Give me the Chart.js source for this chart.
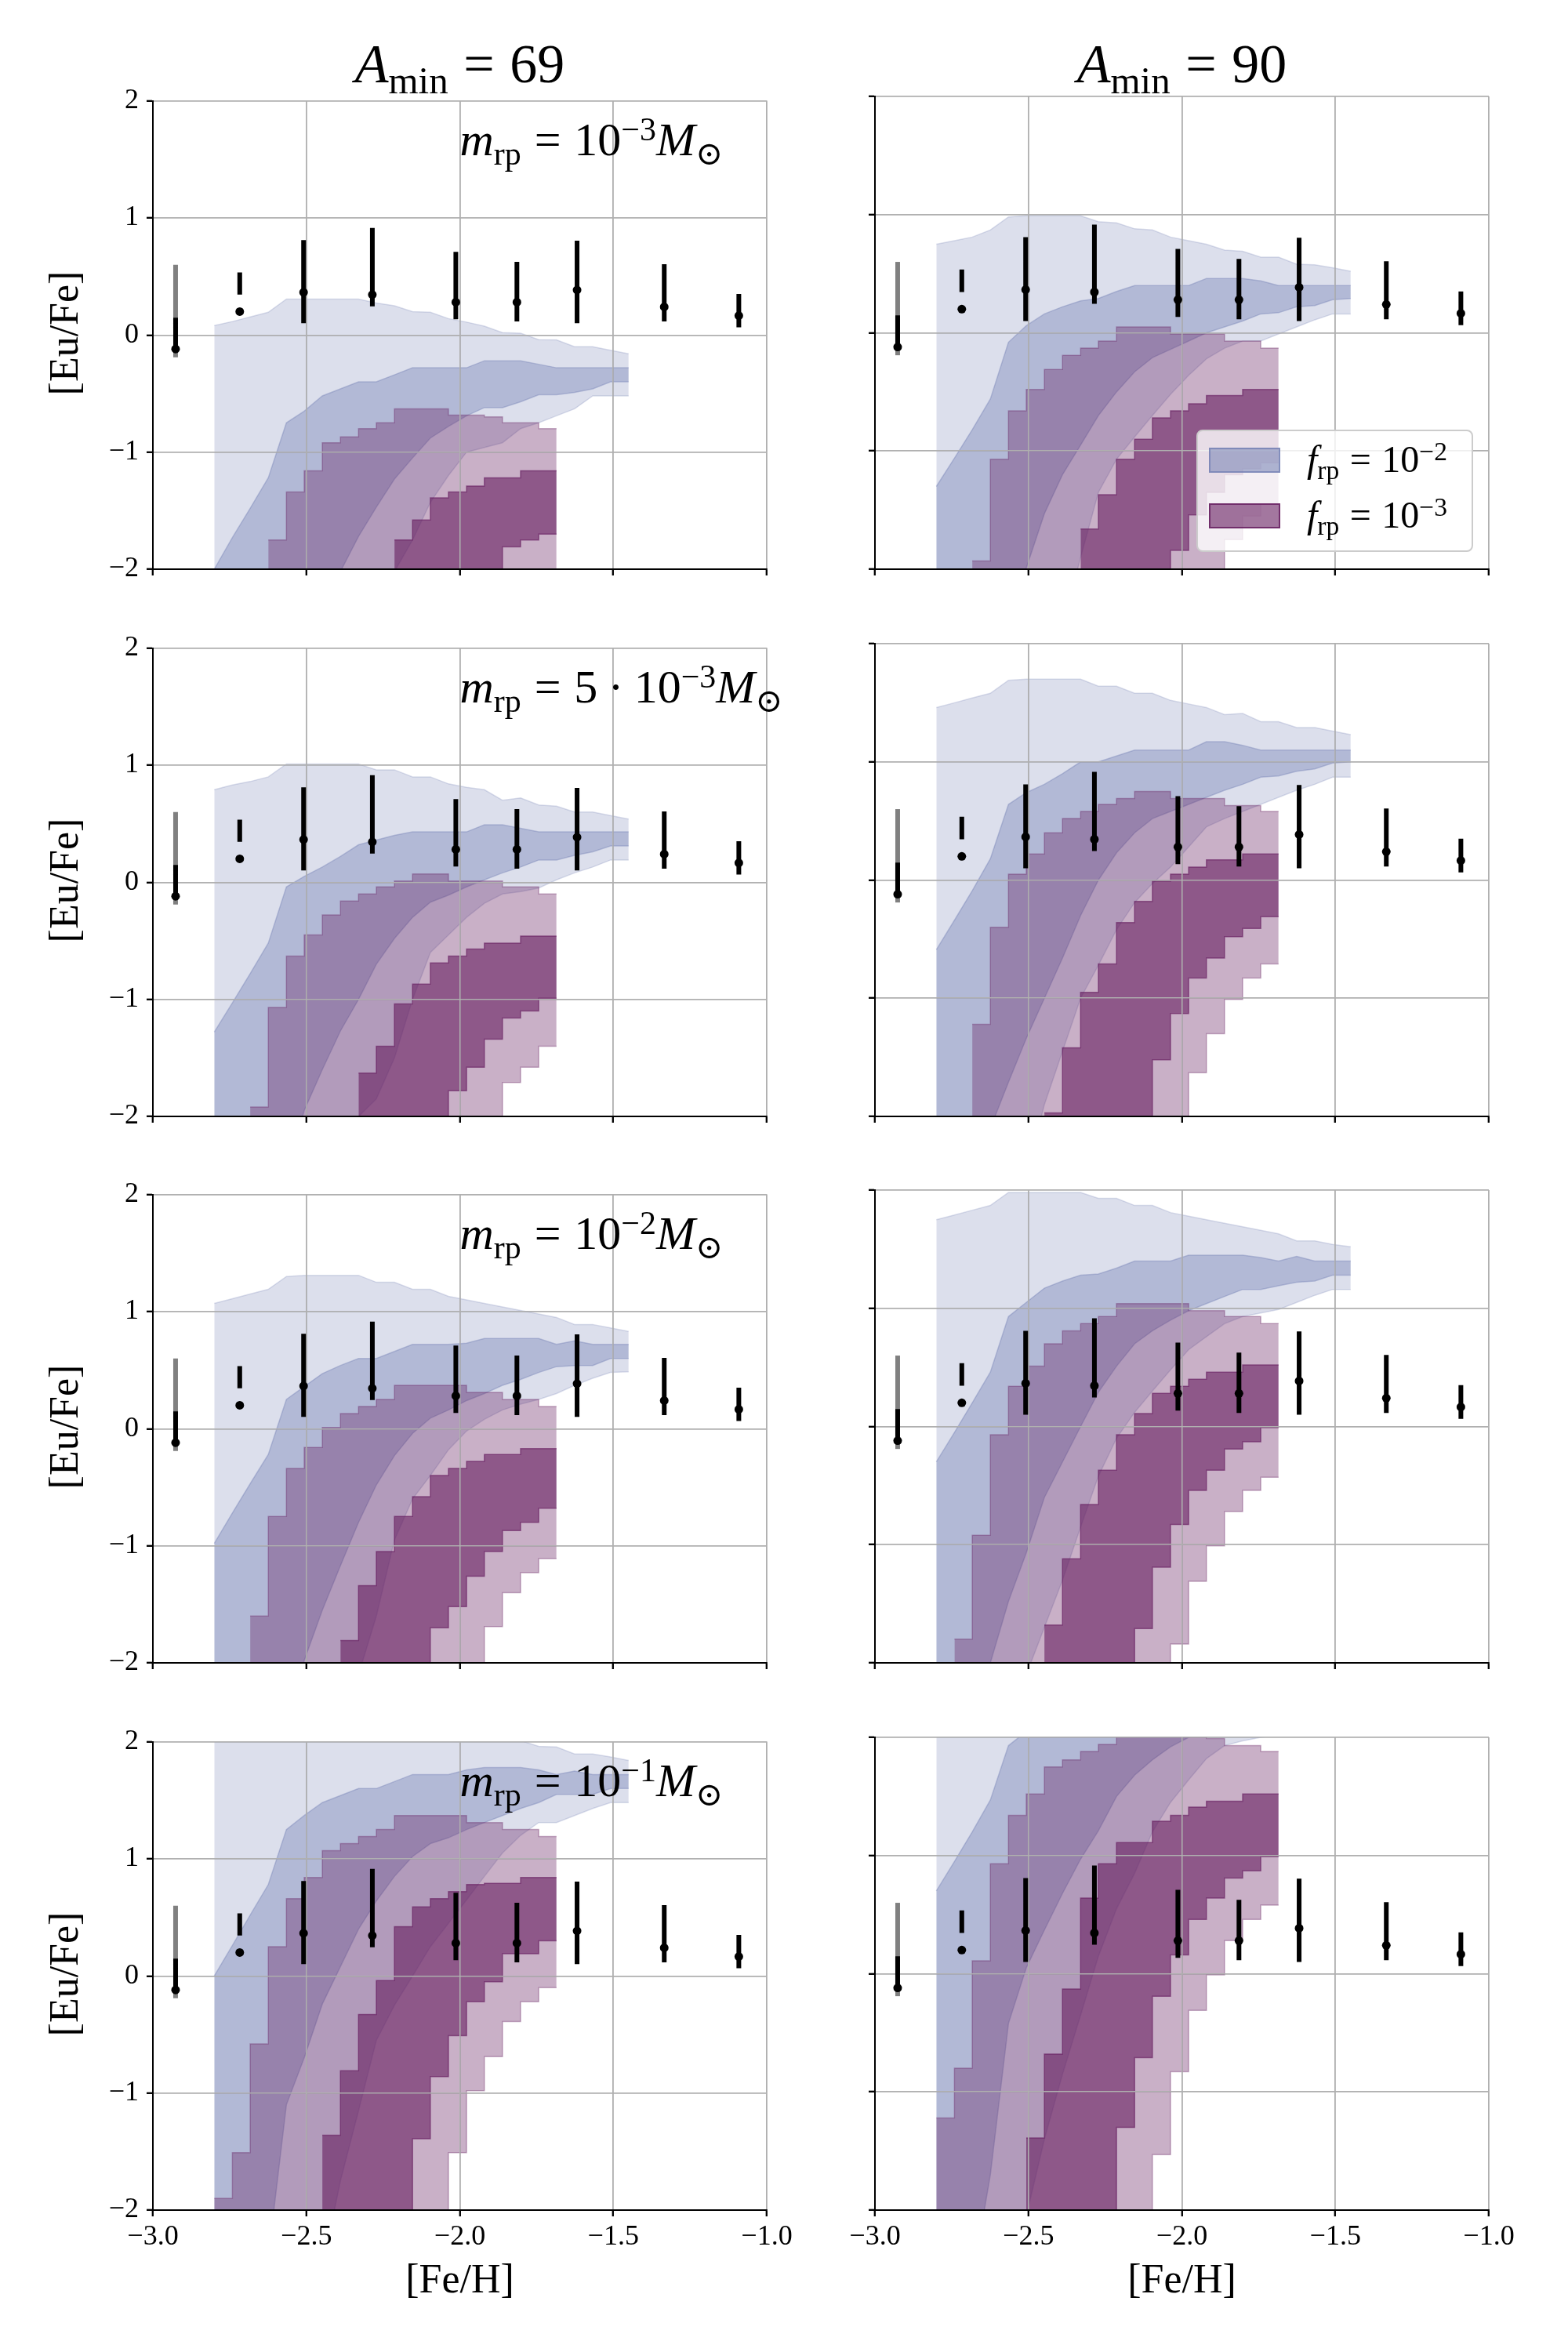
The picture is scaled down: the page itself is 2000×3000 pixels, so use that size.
<!DOCTYPE html>
<html>
<head>
<meta charset="utf-8">
<title>[Eu/Fe] vs [Fe/H]</title>
<script src="https://cdn.jsdelivr.net/npm/chart.js@4.4.1/dist/chart.umd.min.js"></script>
<style>
  html, body { margin: 0; padding: 0; background: #fff; }
  #fig { position: relative; width: 2000px; height: 3000px; overflow: hidden; background: #fff; }
  #fig canvas { position: absolute; }
  .math { position: absolute; white-space: nowrap; line-height: 1; color: #000;
          font-family: "Liberation Serif", "DejaVu Serif", serif; }
  .math i { font-style: italic; }
  .math sub, .math sup { font-size: 0.7em; line-height: 0; position: relative; vertical-align: baseline; }
  .math sub { top: 0.28em; }
  .math sup { top: -0.45em; }
  .math .op { margin: 0 0.28em; }
  .math .bin { margin: 0 0.22em; }
  .legend { position: absolute; box-sizing: border-box; background: rgba(255,255,255,0.8);
            border: 2px solid #cccccc; border-radius: 8px; }
  .swatch { position: absolute; box-sizing: border-box; width: 91px; height: 32px; }
</style>
</head>
<body>
<div id="fig"></div>
<script>
// [Fe/H] positions of the model bins, shared by all panels
const gridX = [-2.800, -2.741, -2.683, -2.624, -2.565, -2.507, -2.448, -2.389, -2.330, -2.272, -2.213, -2.154,
               -2.096, -2.037, -1.978, -1.920, -1.861, -1.802, -1.743, -1.685, -1.626, -1.567, -1.509, -1.450];

// observed stars
const obsX  = [-2.926, -2.717, -2.509, -2.285, -2.013, -1.814, -1.618, -1.334, -1.091];
const obsY  = [-0.12, 0.20, 0.365, 0.345, 0.28, 0.28, 0.385, 0.24, 0.165];
const obsLo = [-0.15, 0.345, 0.10, 0.245, 0.135, 0.115, 0.10, 0.115, 0.065];
const obsHi = [0.147, 0.535, 0.81, 0.915, 0.71, 0.625, 0.805, 0.605, 0.35];
// grey bar on the first bin
const greyX  = [-2.926];
const greyLo = [-0.19];
const greyHi = [0.60];

const aminValues = ['69', '90'];
const mrpLabels = ['10<sup>\u22123</sup>', '5<span class="bin">\u00b7</span>10<sup>\u22123</sup>',
                   '10<sup>\u22122</sup>', '10<sup>\u22121</sup>'];

// panels: 0 = row1 left, 1 = row1 right, 2 = row2 left ... 7 = row4 right
// f_rp = 1e-2 bands, one value per gridX point
const blueOuterHi = [
  [0.08, 0.115, 0.155, 0.194, 0.307, 0.307, 0.307, 0.307, 0.307, 0.273, 0.25, 0.20, 0.194, 0.14, 0.11, 0.076, 0.02, 0.016, -0.04, -0.042, -0.10, -0.10, -0.13, -0.16],
  [0.75, 0.78, 0.81, 0.87, 0.98, 0.99, 0.99, 0.99, 0.99, 0.94, 0.93, 0.88, 0.87, 0.81, 0.78, 0.75, 0.70, 0.69, 0.64, 0.64, 0.58, 0.575, 0.55, 0.52],
  [0.79, 0.83, 0.86, 0.90, 1.01, 1.01, 1.01, 1.01, 1.01, 0.96, 0.96, 0.90, 0.90, 0.84, 0.81, 0.79, 0.70, 0.72, 0.66, 0.65, 0.60, 0.60, 0.57, 0.54],
  [1.46, 1.50, 1.54, 1.58, 1.69, 1.70, 1.70, 1.70, 1.70, 1.64, 1.64, 1.58, 1.58, 1.52, 1.49, 1.46, 1.40, 1.41, 1.34, 1.34, 1.29, 1.29, 1.26, 1.23],
  [1.07, 1.11, 1.15, 1.19, 1.30, 1.31, 1.31, 1.31, 1.31, 1.25, 1.25, 1.19, 1.19, 1.13, 1.10, 1.07, 1.04, 1.01, 0.98, 0.95, 0.89, 0.89, 0.86, 0.83],
  [1.75, 1.79, 1.83, 1.87, 1.98, 1.98, 1.98, 1.98, 1.98, 1.93, 1.93, 1.87, 1.87, 1.81, 1.78, 1.75, 1.72, 1.69, 1.66, 1.63, 1.57, 1.57, 1.54, 1.52],
  [2.05, 2.10, 2.15, 2.20, 2.30, 2.30, 2.30, 2.30, 2.30, 2.25, 2.25, 2.20, 2.20, 2.15, 2.10, 2.07, 2.04, 2.01, 1.96, 1.955, 1.895, 1.895, 1.87, 1.84],
  [2.25, 2.29, 2.33, 2.37, 2.48, 2.48, 2.48, 2.48, 2.48, 2.43, 2.43, 2.37, 2.37, 2.31, 2.28, 2.25, 2.22, 2.19, 2.16, 2.13, 2.12, 2.12, 2.11, 2.11]
];
const blueOuterLo = [
  [-2.5, -2.5, -2.5, -2.5, -2.5, -2.5, -2.5, -2.5, -2.5, -2.3, -2.02, -1.75, -1.43, -1.2, -1.0, -0.96, -0.92, -0.8, -0.75, -0.69, -0.63, -0.52, -0.52, -0.52],
  [-2.5, -2.5, -2.5, -2.5, -2.5, -2.5, -2.5, -2.5, -1.9, -1.35, -1.07, -0.88, -0.70, -0.52, -0.36, -0.22, -0.13, -0.07, -0.07, -0.01, 0.05, 0.11, 0.16, 0.16],
  [-2.5, -2.5, -2.5, -2.5, -2.5, -2.5, -2.5, -2.5, -2.0, -1.85, -1.5, -1.0, -0.6, -0.45, -0.30, -0.18, -0.10, -0.08, -0.05, 0.02, 0.08, 0.13, 0.19, 0.19],
  [-2.5, -2.5, -2.5, -2.5, -2.5, -2.5, -1.9, -1.45, -1.0, -0.72, -0.42, -0.19, -0.03, 0.11, 0.28, 0.45, 0.52, 0.58, 0.64, 0.70, 0.76, 0.81, 0.87, 0.87],
  [-2.5, -2.5, -2.5, -2.5, -2.5, -2.5, -2.5, -2.5, -2.1, -1.6, -0.95, -0.60, -0.40, -0.18, -0.02, 0.08, 0.16, 0.21, 0.25, 0.30, 0.37, 0.43, 0.48, 0.485],
  [-2.5, -2.5, -2.5, -2.5, -2.5, -2.1, -1.7, -1.3, -0.85, -0.42, -0.10, 0.12, 0.30, 0.48, 0.65, 0.76, 0.87, 0.93, 0.96, 0.99, 1.05, 1.11, 1.16, 1.16],
  [-2.5, -2.5, -2.5, -2.5, -2.5, -2.5, -2.5, -1.75, -1.15, -0.55, -0.25, 0.0, 0.25, 0.45, 0.65, 0.85, 1.05, 1.20, 1.31, 1.31, 1.37, 1.43, 1.48, 1.48],
  [-2.5, -2.5, -2.5, -2.5, -2.5, -2.05, -1.4, -0.85, -0.35, 0.15, 0.55, 0.85, 1.20, 1.45, 1.64, 1.82, 1.93, 1.97, 2.0, 2.02, 2.05, 2.06, 2.07, 2.08]
];
const blueInnerHi = [
  [-2.0, -1.73, -1.48, -1.22, -0.75, -0.65, -0.52, -0.46, -0.40, -0.40, -0.34, -0.28, -0.28, -0.28, -0.28, -0.22, -0.22, -0.22, -0.25, -0.28, -0.28, -0.28, -0.28, -0.28],
  [-1.30, -1.06, -0.82, -0.56, -0.08, 0.06, 0.16, 0.22, 0.27, 0.29, 0.35, 0.40, 0.40, 0.40, 0.40, 0.46, 0.46, 0.46, 0.44, 0.40, 0.40, 0.40, 0.40, 0.40],
  [-1.28, -1.03, -0.78, -0.52, -0.04, 0.05, 0.13, 0.22, 0.32, 0.36, 0.40, 0.43, 0.43, 0.43, 0.43, 0.49, 0.49, 0.46, 0.43, 0.43, 0.43, 0.43, 0.43, 0.43],
  [-0.59, -0.34, -0.09, 0.18, 0.64, 0.74, 0.81, 0.90, 1.0, 1.0, 1.05, 1.10, 1.10, 1.10, 1.10, 1.17, 1.17, 1.14, 1.10, 1.10, 1.10, 1.10, 1.10, 1.10],
  [-0.98, -0.72, -0.47, -0.22, 0.25, 0.36, 0.47, 0.54, 0.60, 0.60, 0.66, 0.72, 0.72, 0.72, 0.73, 0.77, 0.77, 0.77, 0.77, 0.72, 0.75, 0.72, 0.72, 0.72],
  [-0.30, -0.05, 0.20, 0.46, 0.93, 1.05, 1.17, 1.23, 1.28, 1.29, 1.34, 1.40, 1.40, 1.40, 1.45, 1.45, 1.45, 1.45, 1.43, 1.40, 1.44, 1.40, 1.40, 1.40],
  [0.0, 0.26, 0.52, 0.78, 1.25, 1.37, 1.48, 1.54, 1.60, 1.60, 1.66, 1.72, 1.72, 1.72, 1.76, 1.78, 1.78, 1.78, 1.76, 1.72, 1.75, 1.72, 1.72, 1.72],
  [0.70, 0.95, 1.20, 1.47, 1.93, 2.05, 2.17, 2.25, 2.30, 2.35, 2.35, 2.35, 2.35, 2.35, 2.35, 2.35, 2.35, 2.35, 2.35, 2.35, 2.35, 2.35, 2.35, 2.35]
];
const blueInnerLo = [
  [-2.6, -2.6, -2.6, -2.6, -2.6, -2.6, -2.6, -2.02, -1.72, -1.47, -1.23, -1.05, -0.88, -0.78, -0.69, -0.62, -0.62, -0.57, -0.51, -0.51, -0.49, -0.46, -0.40, -0.40],
  [-2.5, -2.5, -2.5, -2.5, -2.5, -1.99, -1.53, -1.2, -0.95, -0.70, -0.50, -0.33, -0.21, -0.14, -0.07, 0.0, 0.05, 0.10, 0.16, 0.17, 0.22, 0.23, 0.28, 0.29],
  [-2.5, -2.5, -2.5, -2.5, -2.5, -1.95, -1.60, -1.27, -1.0, -0.70, -0.48, -0.30, -0.17, -0.11, -0.04, 0.02, 0.08, 0.13, 0.19, 0.19, 0.23, 0.26, 0.31, 0.31],
  [-2.5, -2.5, -2.5, -2.1, -1.71, -1.34, -1.0, -0.66, -0.30, 0.0, 0.23, 0.40, 0.52, 0.58, 0.64, 0.70, 0.76, 0.81, 0.87, 0.88, 0.92, 0.94, 0.99, 1.0],
  [-2.5, -2.5, -2.5, -2.5, -2.5, -1.98, -1.55, -1.17, -0.80, -0.48, -0.23, -0.04, 0.09, 0.16, 0.24, 0.30, 0.37, 0.42, 0.48, 0.53, 0.54, 0.54, 0.60, 0.60],
  [-2.5, -2.5, -2.5, -2.0, -1.48, -1.07, -0.60, -0.30, 0.0, 0.29, 0.51, 0.70, 0.81, 0.90, 0.98, 1.04, 1.10, 1.16, 1.16, 1.19, 1.22, 1.23, 1.28, 1.28],
  [-2.5, -2.5, -2.5, -2.4, -1.10, -0.70, -0.24, 0.08, 0.40, 0.64, 0.85, 1.02, 1.13, 1.18, 1.25, 1.31, 1.37, 1.43, 1.48, 1.55, 1.55, 1.55, 1.60, 1.60],
  [-2.6, -2.6, -2.6, -1.7, -0.42, 0.05, 0.37, 0.68, 0.97, 1.21, 1.50, 1.68, 1.81, 1.92, 2.0, 2.05, 2.07, 2.08, 2.1, 2.1, 2.12, 2.14, 2.16, 2.18]
];

// f_rp = 1e-3 bands, one value per bin (bin b runs from gridX[b] to gridX[b+1]); null = no model
const N = null;
const purpleOuterHi = [
  [N, N, N, -1.75, -1.34, -1.16, -0.92, -0.87, -0.80, -0.75, -0.63, -0.63, -0.63, -0.685, -0.685, -0.70, -0.75, -0.75, -0.80],
  [N, N, -1.93, -1.07, -0.66, -0.48, -0.31, -0.19, -0.13, -0.07, 0.05, 0.05, 0.05, -0.01, -0.01, -0.01, -0.07, -0.07, -0.13],
  [N, N, -1.92, -1.07, -0.63, -0.45, -0.28, -0.16, -0.10, -0.04, 0.01, 0.07, 0.07, 0.01, 0.01, 0.01, -0.04, -0.04, -0.10],
  [N, N, -1.22, -0.40, 0.05, 0.22, 0.40, 0.52, 0.58, 0.64, 0.69, 0.75, 0.75, 0.69, 0.69, 0.69, 0.63, 0.63, 0.58],
  [N, N, -1.60, -0.75, -0.34, -0.16, 0.01, 0.13, 0.19, 0.25, 0.37, 0.37, 0.37, 0.37, 0.31, 0.31, 0.25, 0.25, 0.19],
  [N, -1.80, -0.92, -0.07, 0.34, 0.51, 0.70, 0.81, 0.87, 0.93, 1.04, 1.04, 1.04, 1.04, 0.98, 0.98, 0.93, 0.93, 0.87],
  [-1.90, -1.51, -0.58, 0.25, 0.66, 0.84, 1.07, 1.13, 1.19, 1.25, 1.37, 1.37, 1.37, 1.37, 1.31, 1.31, 1.25, 1.25, 1.19],
  [-1.22, -0.80, 0.11, 0.93, 1.34, 1.52, 1.75, 1.81, 1.88, 1.94, 2.05, 2.05, 2.05, 2.05, 2.05, 1.99, 1.93, 1.93, 1.88]
];
const purpleOuterLo = [
  [N, N, N, -2.3, -2.3, -2.3, -2.3, -2.3, -2.3, -2.3, -2.3, -2.3, -2.3, -2.3, -2.3, -2.3, -2.3, -2.3, -2.3],
  [N, N, -2.3, -2.3, -2.3, -2.3, -2.3, -2.3, -2.3, -2.3, -2.3, -2.3, -2.3, -2.3, -2.3, -2.3, -1.75, -1.55, -1.45],
  [N, N, -2.3, -2.3, -2.3, -2.3, -2.3, -2.3, -2.3, -2.3, -2.3, -2.3, -2.3, -2.3, -2.3, -2.3, -1.71, -1.58, -1.40],
  [N, N, -2.3, -2.3, -2.3, -2.3, -2.3, -2.3, -2.3, -2.3, -2.3, -2.3, -2.3, -2.3, -1.63, -1.30, -1.01, -0.83, -0.71],
  [N, N, -2.3, -2.3, -2.3, -2.3, -2.3, -2.3, -2.3, -2.3, -2.3, -2.3, -2.3, -2.3, -2.3, -1.69, -1.40, -1.23, -1.11],
  [N, -2.3, -2.3, -2.3, -2.3, -2.3, -2.3, -2.3, -2.3, -2.3, -2.3, -2.3, -2.3, -1.84, -1.31, -1.01, -0.72, -0.54, -0.43],
  [-2.3, -2.3, -2.3, -2.3, -2.3, -2.3, -2.3, -2.3, -2.3, -2.3, -2.3, -2.3, -2.3, -1.51, -0.98, -0.69, -0.39, -0.22, -0.10],
  [-2.3, -2.3, -2.3, -2.3, -2.3, -2.3, -2.3, -2.3, -2.3, -2.3, -2.3, -2.3, -1.53, -0.83, -0.31, -0.01, 0.28, 0.46, 0.58]
];
const purpleInnerHi = [
  [N, N, N, N, N, N, N, N, N, N, -1.75, -1.58, -1.39, -1.34, -1.29, -1.22, -1.22, -1.16, -1.16],
  [N, N, N, N, N, N, N, N, -1.66, -1.37, -1.07, -0.90, -0.72, -0.66, -0.60, -0.53, -0.53, -0.48, -0.48],
  [N, N, N, N, N, N, N, N, -1.63, -1.40, -1.04, -0.87, -0.69, -0.63, -0.57, -0.52, -0.52, -0.46, -0.46],
  [N, N, N, N, N, N, -1.97, -1.42, -0.95, -0.71, -0.36, -0.18, -0.01, 0.05, 0.11, 0.17, 0.17, 0.22, 0.22],
  [N, N, N, N, N, N, N, -1.81, -1.34, -1.05, -0.75, -0.58, -0.40, -0.34, -0.28, -0.22, -0.22, -0.17, -0.17],
  [N, N, N, N, N, N, -1.68, -1.12, -0.66, -0.37, -0.07, 0.11, 0.28, 0.34, 0.40, 0.46, 0.46, 0.52, 0.52],
  [N, N, N, N, N, N, -1.36, -0.81, -0.33, -0.04, 0.42, 0.59, 0.66, 0.72, 0.78, 0.79, 0.79, 0.84, 0.84],
  [N, N, N, N, N, -1.39, -0.68, -0.13, 0.64, 0.93, 1.11, 1.11, 1.29, 1.34, 1.41, 1.46, 1.46, 1.52, 1.52]
];
const purpleInnerLo = [
  [N, N, N, N, N, N, N, N, N, N, -2.3, -2.3, -2.3, -2.3, -2.3, -2.3, -1.81, -1.75, -1.70],
  [N, N, N, N, N, N, N, N, -2.3, -2.3, -2.3, -2.3, -2.3, -1.84, -1.54, -1.35, -1.20, -1.15, -1.10],
  [N, N, N, N, N, N, N, N, -2.3, -2.3, -2.3, -2.3, -2.3, -1.78, -1.58, -1.34, -1.16, -1.10, -0.99],
  [N, N, N, N, N, N, -2.3, -2.3, -2.3, -2.3, -2.3, -2.3, -1.52, -1.13, -0.83, -0.66, -0.48, -0.41, -0.31],
  [N, N, N, N, N, N, N, -2.3, -2.3, -2.3, -2.3, -2.3, -1.70, -1.52, -1.26, -1.05, -0.87, -0.80, -0.68],
  [N, N, N, N, N, N, -2.3, -2.3, -2.3, -2.3, -2.3, -1.71, -1.19, -0.83, -0.54, -0.37, -0.19, -0.13, -0.01],
  [N, N, N, N, N, N, -2.3, -2.3, -2.3, -2.3, -2.3, -1.39, -0.86, -0.51, -0.22, -0.05, 0.19, 0.19, 0.30],
  [N, N, N, N, N, -2.3, -2.3, -2.3, -2.3, -2.3, -1.30, -0.71, -0.19, 0.16, 0.46, 0.64, 0.81, 0.87, 0.99]
];

const BLUE_OUT = 'rgba(115,127,179,0.25)';
const BLUE_IN = 'rgba(115,127,179,0.40)';
const PURP_OUT = 'rgba(101,29,95,0.35)';
const PURP_IN = 'rgba(101,29,95,0.60)';

// figure geometry (px)
const COL_LEFT = [195, 1116];
const ROW_TOP = [123, 821, 1518, 2216];
const PW = 783, PH = 603;
const PAD_L = 120, PAD_T = 26, PAD_R = 40, PAD_B = 70;
const SERIF = '"Liberation Serif", "DejaVu Serif", serif';

Chart.defaults.font.family = SERIF;
Chart.defaults.color = '#000';

const fig = document.getElementById('fig');

function minus(s) {
  return String(s).replace('-', '\u2212');
}

function linePts(vals) {
  return vals.map((v, k) => ({ x: gridX[k], y: v }));
}

// one point at the left edge of every bin, plus the right edge of the last bin
function stepPts(vals) {
  const pts = [];
  let last = -1;
  vals.forEach((v, b) => {
    if (v !== null) { pts.push({ x: gridX[b], y: v }); last = b; }
  });
  if (last >= 0) pts.push({ x: gridX[last + 1], y: vals[last] });
  return pts;
}

function bandSets(hi, lo, color, order, stepped) {
  const mk = stepped ? stepPts : linePts;
  const base = { borderColor: color, borderWidth: 1.5, pointRadius: 0, order: order,
                 stepped: stepped, tension: 0 };
  return [
    Object.assign({}, base, { data: mk(hi), fill: '+1', backgroundColor: color }),
    Object.assign({}, base, { data: mk(lo), fill: false })
  ];
}

// vertical segments separated by gaps
function errorSegments(xs, lo, hi) {
  const pts = [];
  xs.forEach((x, i) => {
    pts.push({ x: x, y: lo[i] }, { x: x, y: hi[i] }, { x: x, y: null });
  });
  return pts;
}

// gridlines sit above the shaded bands but below the data points
const gridOnTop = {
  id: 'gridOnTop',
  beforeDatasetDraw(chart, args) {
    if (!chart.data.datasets[args.index].gridAbove) return;
    const area = chart.chartArea;
    chart.scales.x.drawGrid(area);
    chart.scales.y.drawGrid(area);
    if (chart.scales.x.drawBorder) chart.scales.x.drawBorder();
    if (chart.scales.y.drawBorder) chart.scales.y.drawBorder();
  }
};

function gridOpts() {
  return { color: '#b0b0b0', lineWidth: 1.6, tickLength: 8, tickWidth: 2, tickColor: '#000' };
}

function makePanel(row, col) {
  const p = row * 2 + col;
  const cv = document.createElement('canvas');
  cv.width = PAD_L + PW + PAD_R;
  cv.height = PAD_T + PH + PAD_B;
  cv.style.left = (COL_LEFT[col] - PAD_L) + 'px';
  cv.style.top = (ROW_TOP[row] - PAD_T) + 'px';
  fig.appendChild(cv);

  const datasets = [
    { data: obsX.map((x, i) => ({ x: x, y: obsY[i] })), showLine: false, pointRadius: 5.5,
      pointBackgroundColor: '#000', pointBorderWidth: 0, order: 1 },
    { data: errorSegments(obsX, obsLo, obsHi), borderColor: '#000', borderWidth: 6,
      borderCapStyle: 'butt', pointRadius: 0, spanGaps: false, fill: false, order: 2 },
    { data: errorSegments(greyX, greyLo, greyHi), borderColor: '#808080', borderWidth: 6,
      borderCapStyle: 'butt', pointRadius: 0, spanGaps: false, fill: false, order: 3, gridAbove: true }
  ].concat(
    bandSets(purpleInnerHi[p], purpleInnerLo[p], PURP_IN, 4, true),
    bandSets(purpleOuterHi[p], purpleOuterLo[p], PURP_OUT, 5, true),
    bandSets(blueInnerHi[p], blueInnerLo[p], BLUE_IN, 6, false),
    bandSets(blueOuterHi[p], blueOuterLo[p], BLUE_OUT, 7, false)
  );

  new Chart(cv, {
    type: 'line',
    data: { datasets: datasets },
    options: {
      responsive: false,
      animation: false,
      devicePixelRatio: 1,
      events: [],
      layout: { padding: { left: 0, top: PAD_T, right: PAD_R, bottom: 0 } },
      plugins: { legend: { display: false }, tooltip: { enabled: false } },
      scales: {
        x: {
          type: 'linear', min: -3, max: -1,
          afterFit: s => { s.height = PAD_B; },
          ticks: { stepSize: 0.5, display: row === 3, autoSkip: false, maxRotation: 0, padding: 5,
                   font: { size: 36 }, color: '#000', callback: v => minus(v.toFixed(1)) },
          grid: gridOpts(),
          border: { display: true, color: '#000', width: 2 }
        },
        y: {
          type: 'linear', min: -2, max: 2,
          afterFit: s => { s.width = PAD_L; },
          ticks: { stepSize: 1, display: col === 0, padding: 10,
                   font: { size: 36 }, color: '#000', callback: v => minus(v) },
          grid: gridOpts(),
          border: { display: true, color: '#000', width: 2 }
        }
      }
    },
    plugins: [gridOnTop]
  });
}

function addText(html, left, top, size, extra) {
  const d = document.createElement('div');
  d.className = 'math';
  d.innerHTML = html;
  d.style.left = left + 'px';
  d.style.top = top + 'px';
  d.style.fontSize = size + 'px';
  if (extra) Object.assign(d.style, extra);
  fig.appendChild(d);
  return d;
}

for (let row = 0; row < 4; row++) {
  for (let col = 0; col < 2; col++) makePanel(row, col);
}

// column titles
aminValues.forEach((v, col) => {
  const cx = COL_LEFT[col] + PW / 2;
  addText('<i>A</i><sub>min</sub><span class="op">=</span>' + v, cx - 300, 47, 70,
          { width: '600px', textAlign: 'center' });
});

// m_rp labels in the left panels
mrpLabels.forEach((lab, row) => {
  addText('<i>m</i><sub>rp</sub><span class="op">=</span>' + lab + '<i>M</i><sub>\u2299</sub>',
          COL_LEFT[0] + PW * 0.5, ROW_TOP[row] + 25, 60);
});

// axis labels
for (let col = 0; col < 2; col++) {
  const cx = COL_LEFT[col] + PW / 2;
  addText('[Fe/H]', cx - 150, 2881, 52, { width: '300px', textAlign: 'center' });
}
for (let row = 0; row < 4; row++) {
  const cy = ROW_TOP[row] + PH / 2;
  addText('[Eu/Fe]', 82 - 150, cy - 26, 52,
          { width: '300px', textAlign: 'center', transform: 'rotate(-90deg)', transformOrigin: '50% 50%' });
}

// legend in the top-right panel
const legend = document.createElement('div');
legend.className = 'legend';
Object.assign(legend.style, { left: '1526px', top: '548px', width: '353px', height: '156px' });
fig.appendChild(legend);
const legendItems = [
  { fill: 'rgba(115,127,179,0.55)', edge: 'rgba(115,127,179,0.75)', label: '10<sup>\u22122</sup>' },
  { fill: 'rgba(101,29,95,0.60)', edge: 'rgba(101,29,95,0.80)', label: '10<sup>\u22123</sup>' }
];
legendItems.forEach((it, i) => {
  const sw = document.createElement('div');
  sw.className = 'swatch';
  Object.assign(sw.style, { left: '14px', top: (21 + i * 71) + 'px', background: it.fill,
                            border: '2px solid ' + it.edge });
  legend.appendChild(sw);
  const t = document.createElement('div');
  t.className = 'math';
  t.innerHTML = '<i>f</i><sub>rp</sub><span class="op">=</span>' + it.label;
  Object.assign(t.style, { left: '139px', top: (12 + i * 71) + 'px', fontSize: '48px' });
  legend.appendChild(t);
});
</script>
</body>
</html>
